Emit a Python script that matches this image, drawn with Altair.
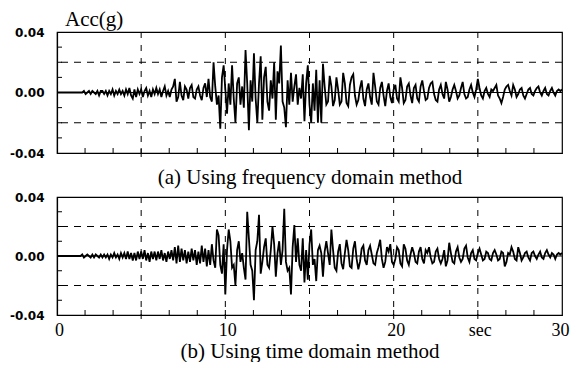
import altair as alt
import pandas as pd

DT = 0.1  # sampling interval of the records, s

# Acceleration samples in 0.001 g, one row = one second (10 samples)
acc_freq_mg = [
    0, 0, 0, 0, 0, 0, 0, 0, 0, 0,
    0, 0, 0, 0, 0, 0, 1, -1, 0, 1,
    -1, 1, 0, -1, 1, -2, 1, 1, -1, 1,
    -2, 1, -1, 2, -2, 1, -1, 2, -1, 1,
    -2, 2, -1, 3, -2, -4, 2, -3, 2, -1,
    2, -3, 1, 3, -2, 1, -3, 2, -1, 3,
    -1, 2, -3, 1, 4, -2, 1, -3, 2, 4,
    9, -6, -3, 7, -2, -5, 4, 2, -4, 3,
    5, -3, -4, 2, 4, -2, -5, 3, 6, -3,
    9, -3, -6, 20, 4, -8, -2, -24, 10, 18,
    2, -14, 6, -8, 18, -4, -20, 6, 10, -8,
    4, -10, 28, 6, -25, 8, -6, 26, -4, -20,
    6, 24, -18, 10, 17, -6, -12, 8, -4, 20,
    -18, 14, 6, 31, -6, -10, -23, 8, -8, 13,
    -6, 4, 12, -8, 3, -4, 12, -19, 6, 18,
    -8, -20, 6, -12, 15, -20, 8, -20, 19, 4,
    -8, -6, 11, 4, -9, -5, 10, 2, -8, -6,
    13, 6, -7, -9, 5, 10, 12, -2, -8, -5,
    3, 8, -4, -9, 2, 6, -3, -8, 13, 4,
    -6, -8, 3, 7, -2, -9, 1, 6, -3, -7,
    2, 5, -4, -6, 10, 3, -7, -5, 4, 6,
    -2, -7, 3, 5, -4, -6, 4, 8, 1, -5,
    -4, 3, 6, 7, -1, -5, -6, 2, 5, -1,
    -4, 7, 2, -6, -3, 2, 5, 1, -4, -2,
    3, 7, -1, -4, -3, 2, 5, 0, -3, 2,
    9, 3, -2, -4, 1, 3, -1, -3, 2, 1,
    3, 5, -2, -4, -7, -3, 2, 4, 5, 1,
    -2, 5, 2, -3, -1, 2, 3, -2, -4, -1,
    2, 3, -1, -2, 1, 3, 4, 0, -2, 1,
    3, -1, -2, 1, 3, 0, -2, 1, 2, 1,
    2,
]

acc_time_mg = [
    0, 0, 0, 0, 0, 0, 0, 0, 0, 0,
    0, 0, 0, 0, 0, 1, -1, 0, 1, 0,
    -1, 1, -1, 1, 0, -1, 1, -1, 1, -1,
    1, -2, 1, -1, 2, -1, 1, -2, 2, -1,
    2, -2, 3, -2, 2, -3, 2, -3, 3, -2,
    3, -2, 4, -3, 2, -4, 3, -2, 3, -3,
    3, -2, 4, -3, 2, -4, 3, -2, 4, -3,
    6, -5, 7, -4, 5, -3, 4, -5, 3, -4,
    5, -3, 4, -6, 3, -5, 7, -4, 5, -7,
    4, -6, 8, -3, -8, 18, 14, -6, -12, 8,
    -26, 4, 18, 10, -8, -6, -20, 4, 10, -4,
    2, -8, -16, 30, 12, -6, -10, -30, 4, 10,
    28, -12, -4, 6, 12, -6, -8, 4, 20, 8,
    -14, 2, 10, -6, 4, 32, -4, -10, -8, -26,
    6, 21, -4, 12, -6, -10, 12, -18, 4, -16,
    8, 18, -6, -2, -17, 4, 7, 2, -14, 3,
    10, 2, -6, 18, 4, -8, -10, 3, 8, -5,
    -9, 2, 11, 4, -7, -8, 5, 10, -2, -9,
    -4, 5, 7, -3, -6, 4, 7, 1, -5, -6,
    2, 6, 11, -2, -8, -4, 6, 3, 8, -4,
    -6, -2, 6, 4, -5, -7, 8, 5, -3, -6,
    1, 6, 2, -4, -5, 3, 6, -2, -5, 4,
    2, 6, -1, -5, -4, 3, 5, -2, -5, -2,
    4, -7, -3, 9, 2, -4, -5, 3, 6, -1,
    -4, -2, 5, 7, -1, -4, 2, 4, -2, -3,
    2, 5, 1, -3, -2, 3, 2, -2, -3, 2,
    4, 1, -3, -2, 3, 2, -7, -4, 2, 1,
    6, 3, -2, -3, 6, 2, -3, -1, 2, 3,
    -1, -3, 2, 3, 0, -2, 1, 3, -1, -2,
    2, 4, 1, -1, 2, 1, -2, 1, 2, 1,
    2,
]

Y_TITLE = "Acc(g)"
CAPTION_A = "(a) Using frequency domain method"
CAPTION_B = "(b) Using time domain method"
X_DOMAIN = [0, 30]
Y_DOMAIN = [-0.04, 0.04]
X_LABEL_VALUES = [0, 10, 20, 25, 30]
Y_LABEL_VALUES = [-0.04, 0.0, 0.04]
Y_GRID = [-0.02, 0.02]
X_GRID = [5, 10, 15, 20, 25]
X_MINOR = [1.667, 3.333, 6.667, 8.333, 11.667, 13.333, 16.667, 18.333,
           21.667, 23.333, 26.667, 28.333]
Y_MINOR = [-0.03, -0.01, 0.01, 0.03]

SERIF = "Liberation Serif"
W = 505
H_TOP = 121
H_BOT = 118

xscale = alt.Scale(domain=X_DOMAIN, nice=False, zero=False)
yscale = alt.Scale(domain=Y_DOMAIN, nice=False, zero=False)

y_label_expr = ("datum.value < 0 ? '-' + format(-datum.value, '.2f') : "
                "format(datum.value, '.2f')")


def panel(values, height, caption, show_labels, show_title):
    df = pd.DataFrame({
        "t": [round(i * DT, 2) for i in range(len(values))],
        "acc": [v / 1000.0 for v in values],
    })
    if show_labels:
        xaxis = alt.Axis(
            values=X_LABEL_VALUES,
            labelExpr="datum.value == 25 ? 'sec' : datum.label",
            labelFont=SERIF, labelFontSize=18, labelColor="black",
            labelPadding=6, labelFlush=False,
            labelOffset={"condition": {"test": "datum.value == 30", "value": -2},
                         "value": 2},
            ticks=False, grid=False, domainColor="black", domainWidth=1.2,
            title=caption, titleFont=SERIF, titleFontSize=21,
            titleFontWeight="normal", titleColor="black",
            titleBaseline="alphabetic", titlePadding=18,
        )
    else:
        xaxis = alt.Axis(
            labels=False, ticks=False, grid=False, domainColor="black",
            domainWidth=1.2,
            title=caption, titleFont=SERIF, titleFontSize=21,
            titleFontWeight="normal", titleColor="black",
            titleBaseline="alphabetic", titlePadding=30,
        )
    yaxis = alt.Axis(
        values=Y_LABEL_VALUES, labelExpr=y_label_expr,
        labelFont="DejaVu Sans", labelFontWeight="bold", labelFontSize=12,
        labelColor="black", labelPadding=13, ticks=False, grid=False,
        domainColor="black", domainWidth=1.2, title=None,
        minExtent=46, maxExtent=46,
    )

    def X(field):
        return alt.X(field, scale=xscale, axis=xaxis)

    def Y(field):
        return alt.Y(field, scale=yscale, axis=yaxis)

    line = alt.Chart(df).mark_line(color="black", strokeWidth=1.8).encode(
        x=X("t:Q"), y=Y("acc:Q"),
    )
    hgrid = alt.Chart(pd.DataFrame({"y": Y_GRID})).mark_rule(
        color="black", strokeWidth=1, strokeDash=[7, 6]
    ).encode(y=Y("y:Q"))
    vgrid = alt.Chart(pd.DataFrame({"x": X_GRID})).mark_rule(
        color="black", strokeWidth=1, strokeDash=[6, 7]
    ).encode(x=X("x:Q"))
    zero = alt.Chart(pd.DataFrame({"y": [0.0]})).mark_rule(
        color="black", strokeWidth=1
    ).encode(y=Y("y:Q"))
    xminor = alt.Chart(pd.DataFrame({"x": X_MINOR})).mark_rule(
        color="black", strokeWidth=1
    ).encode(x=X("x:Q"), y=alt.value(height - 5), y2=alt.value(height))
    xmajor = alt.Chart(pd.DataFrame({"x": X_GRID})).mark_rule(
        color="black", strokeWidth=1
    ).encode(x=X("x:Q"), y=alt.value(height - 5), y2=alt.value(height + 4))
    yminor = alt.Chart(pd.DataFrame({"y": Y_MINOR + Y_GRID})).mark_rule(
        color="black", strokeWidth=1
    ).encode(y=Y("y:Q"), x=alt.value(0), x2=alt.value(5))

    layers = [line, hgrid, vgrid, zero, xminor, xmajor, yminor]
    if show_title:
        txt = alt.Chart(pd.DataFrame({"label": [Y_TITLE]})).mark_text(
            align="left", baseline="alphabetic", font=SERIF, fontSize=21,
            color="black"
        ).encode(text="label:N", x=alt.value(8), y=alt.value(-6))
        layers.append(txt)
    return alt.layer(*layers).properties(width=W, height=height)


top = panel(acc_freq_mg, H_TOP, CAPTION_A, False, True)
bottom = panel(acc_time_mg, H_BOT, CAPTION_B, True, False)

chart = alt.vconcat(top, bottom, spacing=2).properties(
    padding={"left": 0, "top": 0, "right": 0, "bottom": 0},
    background="white",
).configure_view(stroke="black", strokeWidth=1.2)

chart.save("out.html", embed_options={"renderer": "svg", "actions": False})
